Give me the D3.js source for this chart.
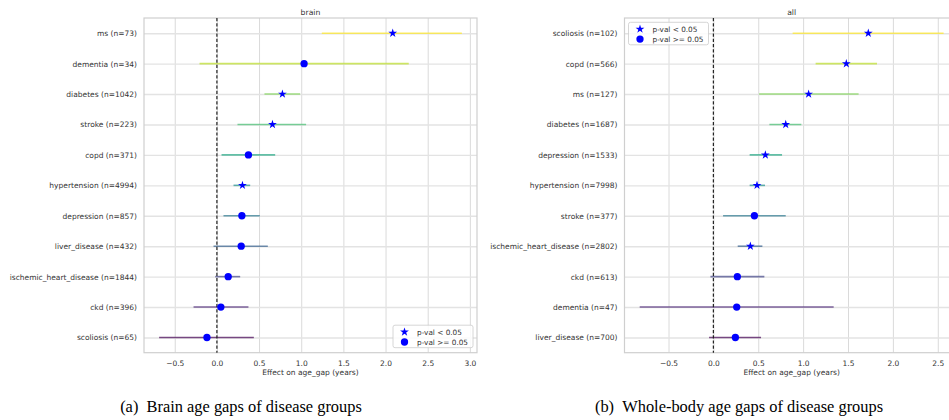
<!DOCTYPE html>
<html>
<head>
<meta charset="utf-8">
<script src="https://cdn.jsdelivr.net/npm/d3@7"></script>
<style>
  body { margin: 0; background: #fff; }
  svg { display: block; }
</style>
</head>
<body>
<svg id="fig" width="949" height="420"></svg>
<script>
// ---- Brain age gap effects per disease group ----
const brainGroups = [
  "ms (n=73)", "dementia (n=34)", "diabetes (n=1042)", "stroke (n=223)",
  "copd (n=371)", "hypertension (n=4994)", "depression (n=857)",
  "liver_disease (n=432)", "ischemic_heart_disease (n=1844)", "ckd (n=396)",
  "scoliosis (n=65)"
];
const brainEffect = [2.085, 1.034, 0.777, 0.659, 0.374, 0.303, 0.296, 0.288, 0.134, 0.047, -0.118];
const brainLow    = [1.244, -0.206, 0.564, 0.244, 0.055, 0.197, 0.078, -0.040, -0.020, -0.277, -0.685];
const brainHigh   = [2.905, 2.275, 0.987, 1.058, 0.691, 0.395, 0.509, 0.604, 0.276, 0.374, 0.438];
const brainSignif = [true, false, true, true, false, true, false, false, false, false, false];
const brainTicks  = [-0.5, 0.0, 0.5, 1.0, 1.5, 2.0, 2.5, 3.0];

// ---- Whole-body age gap effects per disease group ----
const allGroups = [
  "scoliosis (n=102)", "copd (n=566)", "ms (n=127)", "diabetes (n=1687)",
  "depression (n=1533)", "hypertension (n=7998)", "stroke (n=377)",
  "ischemic_heart_disease (n=2802)", "ckd (n=613)", "dementia (n=47)",
  "liver_disease (n=700)"
];
const allEffect = [1.726, 1.481, 1.061, 0.806, 0.579, 0.486, 0.457, 0.412, 0.267, 0.260, 0.245];
const allLow    = [0.883, 1.139, 0.509, 0.624, 0.404, 0.404, 0.108, 0.271, -0.033, -0.821, -0.048];
const allHigh   = [2.565, 1.823, 1.618, 0.980, 0.765, 0.575, 0.806, 0.546, 0.568, 1.340, 0.531];
const allSignif = [true, true, true, true, true, true, false, true, false, false, false];
const allTicks  = [-0.5, 0.0, 0.5, 1.0, 1.5, 2.0, 2.5];

const legendLabels = ["p-val < 0.05", "p-val >= 0.05"];
const captions = ["(a)\u2002Brain age gaps of disease groups", "(b)\u2002Whole-body age gaps of disease groups"];

const svg = d3.select("#fig");
const FONT = "'DejaVu Sans', sans-serif";
const TXT = "#333333";
const GRID = "#dadada";
const MARK = "#0000ff";

const starPath = d3.symbol(d3.symbolStar, 24)();
const dotPath = d3.symbol(d3.symbolCircle, 42)();

function drawPanel(cfg) {
  const g = svg.append("g");
  const n = cfg.groups.length;
  const lo = d3.min(cfg.low), hi = d3.max(cfg.high);
  const pad = (hi - lo) * 0.05;
  const x = d3.scaleLinear().domain([lo - pad, hi + pad]).range([cfg.x0, cfg.x1]);
  const y = d3.scalePoint().domain(cfg.groups).range([cfg.y0, cfg.y1]).padding(0.5);
  const color = i => d3.interpolateViridis(1 - i / (n - 1));

  // vertical grid + x tick labels
  const xAxis = g.append("g")
    .attr("transform", `translate(0,${cfg.y1})`)
    .call(d3.axisBottom(x).tickValues(cfg.ticks).tickSize(-(cfg.y1 - cfg.y0))
      .tickFormat(d3.format(".1f")));
  xAxis.select(".domain").remove();
  xAxis.selectAll(".tick line").attr("stroke", GRID).attr("stroke-width", 1);
  xAxis.selectAll(".tick text")
    .attr("y", 7.6).attr("fill", TXT)
    .style("font-family", FONT).style("font-size", "7.5px");

  // horizontal grid + group labels
  const yAxis = g.append("g")
    .attr("transform", `translate(${cfg.x0},0)`)
    .call(d3.axisLeft(y).tickSize(-(cfg.x1 - cfg.x0)).tickPadding(7));
  yAxis.select(".domain").remove();
  yAxis.selectAll(".tick line").attr("stroke", "#e3e3e3").attr("stroke-width", 1.4);
  yAxis.selectAll(".tick text")
    .attr("fill", TXT)
    .style("font-family", FONT).style("font-size", "7.5px");

  // frame
  g.append("rect")
    .attr("x", cfg.x0).attr("y", cfg.y0)
    .attr("width", cfg.x1 - cfg.x0).attr("height", cfg.y1 - cfg.y0)
    .attr("fill", "none").attr("stroke", "#cfcfcf").attr("stroke-width", 1.2);

  // confidence intervals
  g.selectAll(".ci").data(cfg.groups).join("line")
    .attr("x1", (d, i) => x(cfg.low[i])).attr("x2", (d, i) => x(cfg.high[i]))
    .attr("y1", d => y(d)).attr("y2", d => y(d))
    .attr("stroke", (d, i) => color(i))
    .attr("stroke-opacity", 0.7)
    .attr("stroke-width", 1.6);

  // zero reference
  g.append("line")
    .attr("x1", x(0)).attr("x2", x(0))
    .attr("y1", cfg.y0).attr("y2", cfg.y1)
    .attr("stroke", "#222").attr("stroke-width", 1.2)
    .attr("stroke-dasharray", "3.2,2");

  // point estimates
  g.selectAll(".pt").data(cfg.groups).join("path")
    .attr("d", (d, i) => cfg.signif[i] ? starPath : dotPath)
    .attr("transform", (d, i) => `translate(${x(cfg.effect[i])},${y(d)})`)
    .attr("fill", MARK);

  // title
  g.append("text")
    .attr("x", (cfg.x0 + cfg.x1) / 2).attr("y", 14.5)
    .attr("text-anchor", "middle").attr("fill", TXT)
    .style("font-family", FONT).style("font-size", "7.7px")
    .text(cfg.title);

  // x label
  g.append("text")
    .attr("x", (cfg.x0 + cfg.x1) / 2).attr("y", 375)
    .attr("text-anchor", "middle").attr("fill", TXT)
    .style("font-family", FONT).style("font-size", "7.5px")
    .text("Effect on age_gap (years)");

  // legend
  const lw = 80, lh = 22.5;
  const lx = cfg.legend === "lower right" ? cfg.x1 - 4 - lw : cfg.x0 + 4;
  const ly = cfg.legend === "lower right" ? cfg.y1 - 5 - lh : cfg.y0 + 4.3;
  const leg = g.append("g").attr("transform", `translate(${lx},${ly})`);
  leg.append("rect").attr("width", lw).attr("height", lh).attr("rx", 2)
    .attr("fill", "#fff").attr("fill-opacity", 0.85)
    .attr("stroke", "#cccccc").attr("stroke-width", 0.8);
  legendLabels.forEach((lab, i) => {
    const yy = 6.8 + i * 10;
    leg.append("path").attr("d", i === 0 ? starPath : dotPath)
      .attr("transform", `translate(11.5,${yy})`).attr("fill", MARK);
    leg.append("text").attr("x", 24).attr("y", yy).attr("dy", "0.35em")
      .attr("fill", TXT).style("font-family", FONT).style("font-size", "7.3px")
      .text(lab);
  });
}

drawPanel({
  title: "brain", groups: brainGroups, effect: brainEffect, low: brainLow,
  high: brainHigh, signif: brainSignif, ticks: brainTicks,
  x0: 144, x1: 477, y0: 18, y1: 352.7, legend: "lower right"
});
drawPanel({
  title: "all", groups: allGroups, effect: allEffect, low: allLow,
  high: allHigh, signif: allSignif, ticks: allTicks,
  x0: 624.5, x1: 958.8, y0: 18, y1: 352.7, legend: "upper left"
});

// sub-figure captions
[241, 739].forEach((cx, i) => {
  svg.append("text")
    .attr("x", cx).attr("y", 411.5)
    .attr("text-anchor", "middle").attr("fill", "#000")
    .style("font-family", "'Liberation Serif', 'Times New Roman', serif")
    .style("font-size", "16.4px")
    .text(captions[i]);
});
</script>
</body>
</html>
